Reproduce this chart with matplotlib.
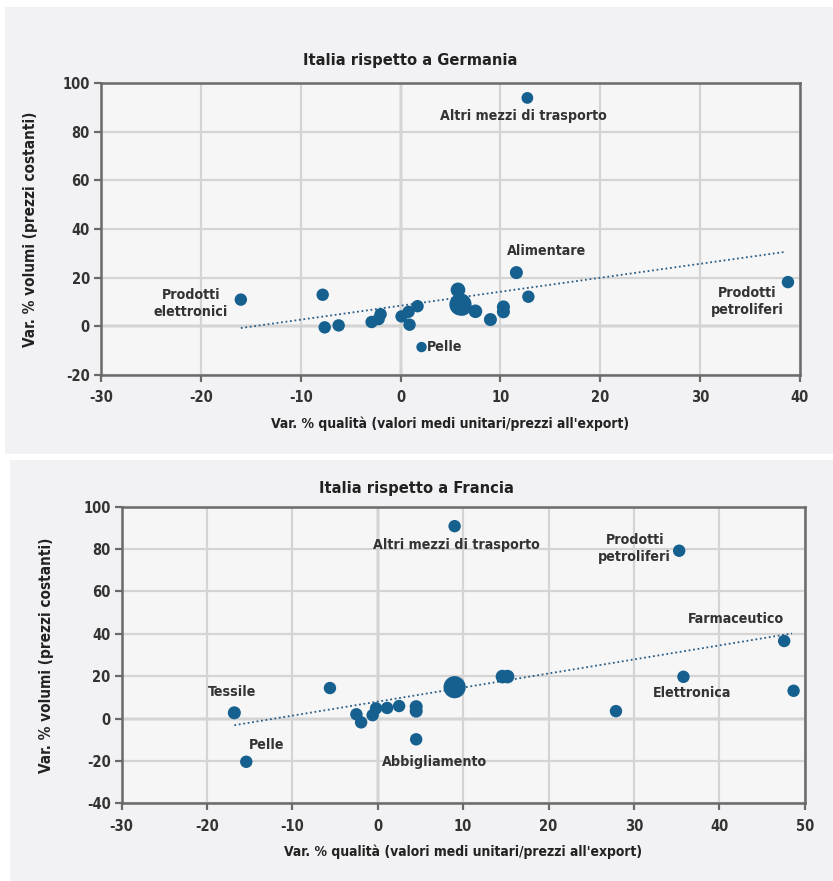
import numpy as np
import matplotlib
matplotlib.use('Agg')
import matplotlib.pyplot as plt
from matplotlib.patches import Rectangle

# ============================================================================
# DATI
# ============================================================================

# Italia rispetto a Germania
ger_x = [-16.0, -7.8, -7.6, -6.2, -2.9, -2.2, -2.0, 0.1, 0.8, 0.9, 1.7, 2.1,
         5.75, 6.0, 6.2, 7.5, 9.0, 10.3, 10.3, 11.6, 12.8, 12.7, 38.8]
ger_y = [11.0, 13.0, -0.4, 0.4, 1.8, 3.0, 5.0, 4.1, 6.0, 0.7, 8.3, -8.5,
         15.0, 9.0, 8.0, 6.2, 2.8, 8.0, 6.0, 22.1, 12.2, 93.9, 18.2]
ger_s = [1, 1, 1, 1, 1, 1, 1, 1, 1, 1, 1, 0.7,
         1.4, 3.2, 2.0, 1.2, 1.1, 1.1, 1.1, 1.1, 1.0, 0.9, 1.0]
ger_trend = (0.574, 8.5, -16.0, 38.5)  # pendenza, intercetta, x min, x max

ger_labels = [
    ("Altri mezzi di trasporto", 12.3, 86.5, 'center'),
    ("Alimentare", 14.6, 31.0, 'center'),
    ("Prodotti\nelettronici", -21.0, 9.4, 'center'),
    ("Prodotti\npetroliferi", 34.7, 10.3, 'center'),
    ("Pelle", 2.6, -8.5, 'left'),
]

# Italia rispetto a Francia
fra_x = [-16.8, -15.4, -5.6, -2.5, -1.95, -0.6, -0.2, 1.1, 2.5, 4.5, 4.5, 4.5,
         9.0, 9.0, 14.6, 15.2, 27.9, 35.3, 35.8, 47.6, 48.7]
fra_y = [2.7, -20.4, 14.4, 2.0, -1.8, 1.6, 4.8, 5.0, 5.9, 5.6, 3.5, -9.8,
         90.8, 14.8, 19.8, 19.8, 3.5, 79.2, 19.7, 36.6, 13.1]
fra_s = [1.1, 1, 1, 1, 1, 1, 1, 1, 1, 1.1, 1.1, 1,
         1, 3.2, 1.2, 1.2, 1, 1, 1, 1, 1]
fra_trend = (0.663, 8.0, -16.8, 48.5)

fra_labels = [
    ("Tessile", -17.1, 12.6, 'center'),
    ("Pelle", -13.0, -12.5, 'center'),
    ("Altri mezzi di trasporto", 9.2, 81.9, 'center'),
    ("Abbigliamento", 6.6, -20.4, 'center'),
    ("Prodotti\npetroliferi", 30.1, 80.1, 'center'),
    ("Farmaceutico", 42.0, 47.0, 'center'),
    ("Elettronica", 36.8, 11.9, 'center'),
]

# ============================================================================
# STILE
# ============================================================================

plt.rcParams['font.family'] = ['DejaVu Sans']
plt.rcParams['font.stretch'] = 'condensed'
plt.rcParams['font.weight'] = 'bold'
plt.rcParams['axes.titleweight'] = 'bold'
plt.rcParams['axes.labelweight'] = 'bold'
plt.rcParams['axes.unicode_minus'] = False

COR_PONTO = '#15608f'
COR_TEXTO = '#333333'
COR_EIXO = '#6a6a6a'
COR_GRADE = '#d4d4d4'
COR_FUNDO = '#f2f2f4'


def desenha_grafico(ax, xs, ys, sz, trend, labels, xlim, ylim, yticks, ypad):
    ax.set_facecolor('#f6f6f7')
    ax.set_xlim(*xlim)
    ax.set_ylim(*ylim)
    ax.set_xticks(np.arange(xlim[0], xlim[1] + 1, 10))
    ax.set_yticks(yticks)
    ax.grid(True, color=COR_GRADE, lw=1.6, zorder=0)
    ax.axhline(0, color=COR_EIXO, lw=1.6, zorder=1)
    ax.axvline(0, color=COR_EIXO, lw=1.6, zorder=1)
    for sp in ax.spines.values():
        sp.set_color(COR_EIXO)
        sp.set_linewidth(1.8)
    ax.tick_params(direction='out', length=5, width=1.6, color=COR_EIXO,
                   labelsize=10.5, labelcolor=COR_TEXTO)
    ax.tick_params(axis='x', pad=6)
    ax.tick_params(axis='y', pad=3)

    # linea di tendenza
    m, q, x0, x1 = trend
    tx = np.array([x0, x1])
    ax.plot(tx, m * tx + q, color='#2a5d85', lw=1.3, ls=(0, (1, 1.5)), zorder=2)

    ax.scatter(xs, ys, s=np.array(sz) * 80, color=COR_PONTO, edgecolors='none', zorder=3)

    for testo, lx, ly, ha in labels:
        ax.text(lx, ly, testo, ha=ha, va='center', fontsize=10.2, color=COR_TEXTO,
                linespacing=1.25, zorder=4)

    ax.set_xlabel("Var. % qualità (valori medi unitari/prezzi all'export)",
                  fontsize=10, color='#222222', labelpad=8)
    ax.set_ylabel("Var. % volumi (prezzi costanti)", fontsize=11, color='#222222',
                  labelpad=ypad)


fig = plt.figure(figsize=(8.33, 8.81), dpi=100, facecolor='white')
fig.patches.append(Rectangle((0.006, 0.485), 0.994, 0.507, transform=fig.transFigure,
                             facecolor=COR_FUNDO, edgecolor='none', zorder=-1))
fig.patches.append(Rectangle((0.012, 0.0), 0.988, 0.478, transform=fig.transFigure,
                             facecolor=COR_FUNDO, edgecolor='none', zorder=-1))

ax1 = fig.add_axes([0.1213, 0.5743, 0.839, 0.3314])
desenha_grafico(ax1, ger_x, ger_y, ger_s, ger_trend, ger_labels,
                (-30, 40), (-20, 100), np.arange(-20, 101, 20), 18)

ax2 = fig.add_axes([0.146, 0.0882, 0.820, 0.3367])
desenha_grafico(ax2, fra_x, fra_y, fra_s, fra_trend, fra_labels,
                (-30, 50), (-40, 100), np.arange(-40, 101, 20), 21)

fig.text(0.492, 1 - 60 / 881, "Italia rispetto a Germania", ha='center', va='center',
         fontsize=11.8, color='#222222')
fig.text(0.5, 1 - 489 / 881, "Italia rispetto a Francia", ha='center', va='center',
         fontsize=11.8, color='#222222')

fig.savefig('out.png', dpi=100, facecolor=fig.get_facecolor())
